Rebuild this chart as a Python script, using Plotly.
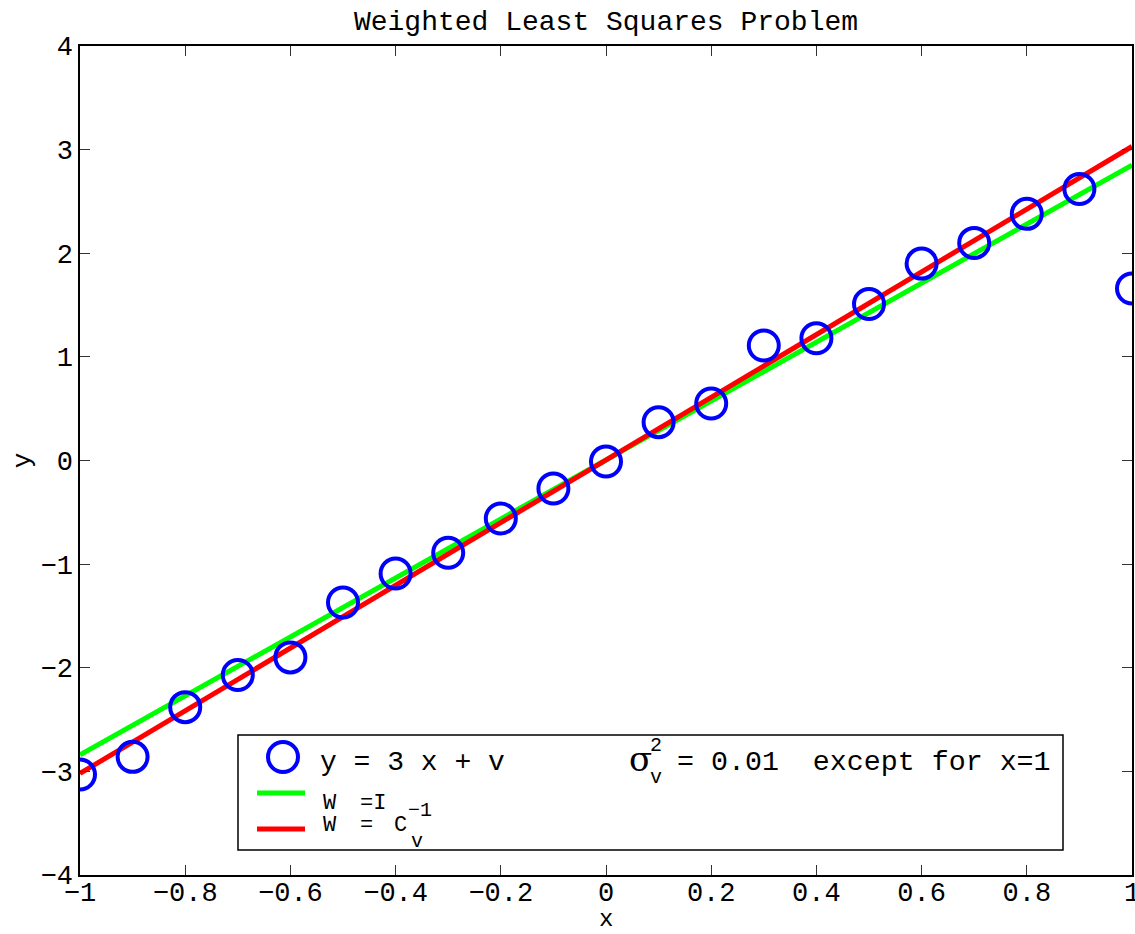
import plotly.graph_objects as go

# ---- data ----
x_obs = [-1.0, -0.9, -0.8, -0.7, -0.6, -0.5, -0.4, -0.3, -0.2, -0.1, 0.0,
         0.1, 0.2, 0.3, 0.4, 0.5, 0.6, 0.7, 0.8, 0.9, 1.0]
y_obs = [-3.03, -2.86, -2.38, -2.07, -1.90, -1.37, -1.09, -0.89, -0.56, -0.27, -0.01,
         0.37, 0.55, 1.11, 1.18, 1.51, 1.90, 2.10, 2.38, 2.62, 1.66]
x_fit = [-1.0, 1.0]
y_fit_identity = [-2.84, 2.85]   # W = I
y_fit_weighted = [-3.02, 3.03]   # W = Cv^-1
x_ticks = [-1, -0.8, -0.6, -0.4, -0.2, 0, 0.2, 0.4, 0.6, 0.8, 1]
x_ticktext = ["\u22121", "\u22120.8", "\u22120.6", "\u22120.4", "\u22120.2", "0",
              "0.2", "0.4", "0.6", "0.8", "1"]
y_ticks = [-4, -3, -2, -1, 0, 1, 2, 3, 4]
y_ticktext = ["\u22124", "\u22123", "\u22122", "\u22121", "0", "1", "2", "3", "4"]

W, H = 1135, 934
L, R, T, B = 80, 1132, 46, 875
MONO = "Liberation Mono"

def px(x):
    return (x - L) / (R - L)

def py(y):
    return (B - y) / (B - T)

fig = go.Figure()
fig.add_trace(go.Scatter(x=x_fit, y=y_fit_identity, mode="lines",
                         line=dict(color="#00ff00", width=5), showlegend=False))
fig.add_trace(go.Scatter(x=x_fit, y=y_fit_weighted, mode="lines",
                         line=dict(color="#ff0000", width=5), showlegend=False))
fig.add_trace(go.Scatter(x=x_obs, y=y_obs, mode="markers",
                         marker=dict(symbol="circle-open", size=30, color="#0000ff",
                                     line=dict(width=4, color="#0000ff")),
                         showlegend=False))

shapes = []
# legend box
shapes.append(dict(type="rect", xref="paper", yref="paper",
                   x0=px(238), x1=px(1063), y0=py(850), y1=py(735),
                   line=dict(color="black", width=1.5), fillcolor="white", layer="above"))
shapes.append(dict(type="line", xref="paper", yref="paper",
                   x0=px(257), x1=px(305), y0=py(793), y1=py(793),
                   line=dict(color="#00ff00", width=5), layer="above"))
shapes.append(dict(type="line", xref="paper", yref="paper",
                   x0=px(257), x1=px(305), y0=py(829), y1=py(829),
                   line=dict(color="#ff0000", width=5), layer="above"))
shapes.append(dict(type="circle", xref="paper", yref="paper",
                   x0=px(268), x1=px(298), y0=py(772), y1=py(742),
                   line=dict(color="#0000ff", width=4), layer="above"))
fig.update_layout(shapes=shapes)

anns = []
def txt(s, x, y, size=28, font=MONO, xanchor="left", yanchor="middle", angle=0):
    anns.append(dict(text=s, x=px(x), y=py(y), xref="paper", yref="paper",
                     showarrow=False, xanchor=xanchor, yanchor=yanchor, textangle=angle,
                     font=dict(family=font, size=size, color="black")))

txt("y = 3 x + v", 318, 762)
txt("\u03c3", 627, 759, size=34, font="DejaVu Serif")
txt("2", 648, 745, size=20)
txt("v", 648, 777, size=20)
txt("= 0.01  except for x=1", 675, 762, size=28.3)
txt("W", 321, 803, size=22)
txt("=I", 358, 803, size=22)
txt("W", 321, 825, size=22)
txt("=", 358, 825, size=22)
txt("C", 392, 825, size=22)
txt("\u22121", 406, 810, size=20)
txt("v", 409, 841, size=20)
# x-axis title
txt("x", 606, 919, size=24, xanchor="center")
fig.update_layout(annotations=anns)

axis_common = dict(showgrid=False, zeroline=False, showline=True, linecolor="black",
                   linewidth=1.5, mirror="ticks", ticks="inside", ticklen=10,
                   tickwidth=1, tickcolor="#333333", automargin=False,
                   ticklabeloverflow="allow",
                   tickfont=dict(family=MONO, size=27, color="black"))
fig.update_xaxes(range=[-1, 1], tickvals=x_ticks, ticktext=x_ticktext,
                 ticklabelstandoff=-8, **axis_common)
fig.update_yaxes(range=[-4, 4], tickvals=y_ticks, ticktext=y_ticktext,
                 title=dict(text="y", font=dict(family=MONO, size=26, color="black"),
                            standoff=2), **axis_common)

fig.update_layout(
    width=W, height=H,
    margin=dict(l=L, r=W - R, t=T, b=H - B),
    paper_bgcolor="white", plot_bgcolor="white",
    title=dict(text="Weighted Least Squares Problem", x=px(606), xref="paper",
               xanchor="center", y=1 - 20 / H, yanchor="middle",
               font=dict(family=MONO, size=28, color="black")),
)

fig.write_html("out.html", config={"displayModeBar": False},
               post_script="document.body.style.margin='0px';")
